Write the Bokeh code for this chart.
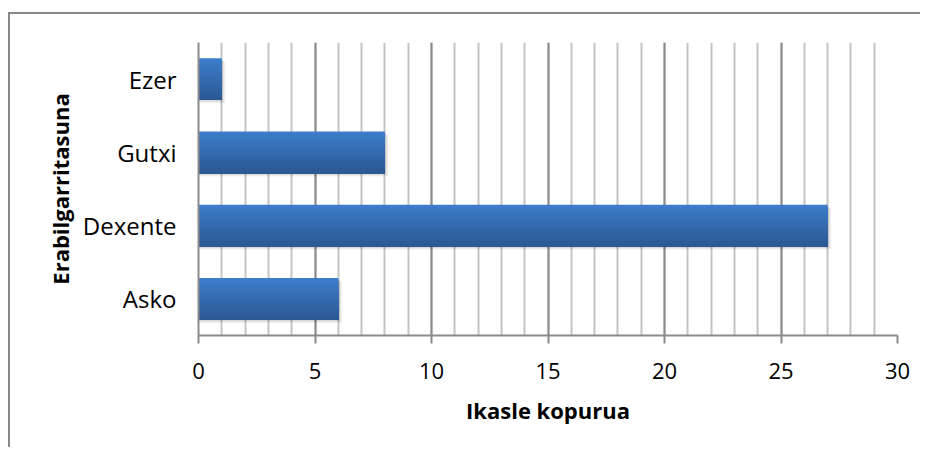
from bokeh.plotting import figure
from bokeh.models import FactorRange, Range1d, SingleIntervalTicker
from bokeh.embed import file_html
from bokeh.resources import INLINE

categories = ["Asko", "Dexente", "Gutxi", "Ezer"]
values = [6, 27, 8, 1]
x_title = "Ikasle kopurua"
y_title = "Erabilgarritasuna"

FONT = "Open Sans"

p = figure(width=912, height=435, output_backend="svg", toolbar_location=None,
           y_range=FactorRange(*categories, range_padding=0),
           x_range=Range1d(0, 30),
           min_border_left=20, min_border_right=56, min_border_top=28, min_border_bottom=114)
p.styles = {"margin-left": "8px", "margin-top": "12px", "padding-left": "31px",
            "border-left": "2px solid #878787", "border-top": "2px solid #878787"}
p.outline_line_color = None
p.background_fill_color = "white"
p.border_fill_color = "white"

# grid
p.xaxis.ticker = SingleIntervalTicker(interval=5, num_minor_ticks=5)
p.xgrid.grid_line_color = "#8a8a8a"
p.xgrid.grid_line_width = 2
p.xgrid.minor_grid_line_color = "#c4c4c4"
p.xgrid.minor_grid_line_width = 2
p.ygrid.grid_line_color = None

bar_h = 0.57
# soft shadow
for k, a in enumerate([0.05, 0.05, 0.05]):
    sh = [(c, -0.02 - 0.012 * k) for c in categories]
    p.hbar(y=sh, right=[v + 0.06 + 0.05 * k for v in values], left=0.02, height=bar_h,
           fill_color="#000000", fill_alpha=a, line_color=None)

# gradient bars (overlapping layers, lighter at top)
N = 24
top_col = (0x3d, 0x7d, 0xcb)
bot_col = (0x2b, 0x58, 0x93)
for i in range(N):
    t = i / (N - 1)
    col = tuple(int(round(top_col[k] + (bot_col[k] - top_col[k]) * t)) for k in range(3))
    top = bar_h / 2 - i * bar_h / N
    bottom = -bar_h / 2
    ys = [(c, (top + bottom) / 2) for c in categories]
    p.hbar(y=ys, right=values, left=0, height=top - bottom,
           fill_color="#%02x%02x%02x" % col, line_color=None)

# axes
for ax in (p.xaxis[0], p.yaxis[0]):
    ax.axis_line_color = "#8a8a8a"
    ax.axis_line_width = 2
    ax.major_label_text_font = FONT
    ax.major_label_text_color = "#000000"
    ax.axis_label_text_font = FONT
    ax.axis_label_text_font_size = "22px"
    ax.axis_label_text_font_style = "bold"
    ax.axis_label_text_color = "#000000"

p.xaxis.major_label_text_font_size = "22px"
p.yaxis.major_label_text_font_size = "24px"

p.xaxis.axis_label = x_title
p.xaxis.major_tick_line_color = "#8a8a8a"
p.xaxis.major_tick_line_width = 2
p.xaxis.major_tick_out = 8
p.xaxis.major_tick_in = 0
p.xaxis.minor_tick_line_color = None
p.xaxis.major_label_standoff = 19
p.xaxis.axis_label_standoff = 13

p.yaxis.axis_label = y_title
p.yaxis.major_tick_line_color = None
p.yaxis.minor_tick_line_color = None
p.yaxis.major_label_standoff = 16
p.yaxis.axis_label_standoff = 5

open("out.html", "w").write(file_html(p, INLINE))
